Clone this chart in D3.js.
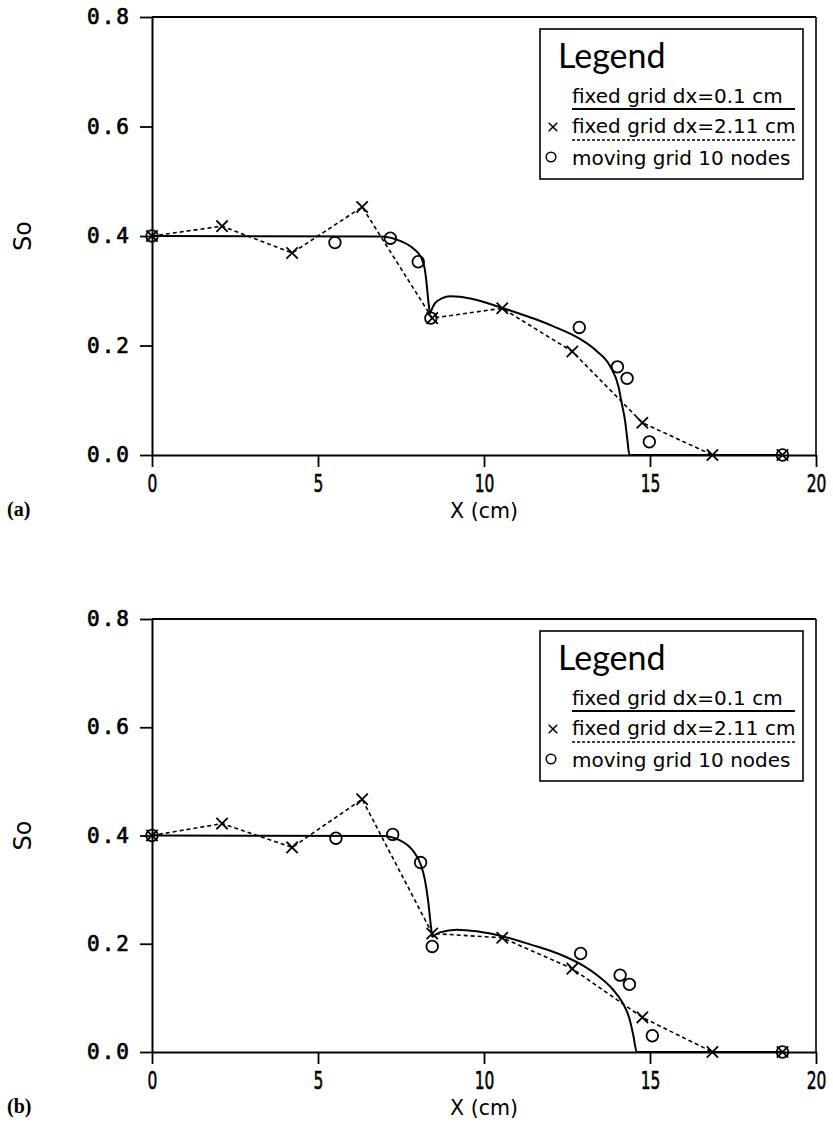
<!DOCTYPE html>
<html>
<head>
<meta charset="utf-8">
<script src="https://cdn.jsdelivr.net/npm/d3@7"></script>
<style>
    body { margin: 0; background: #fff; }
    svg { display: block; }
</style>
</head>
<body>
<svg id="chart" width="833" height="1124"></svg>
<script>
// ---- data ----
const xTicks = [0, 5, 10, 15, 20];
const yTicks = [0.0, 0.2, 0.4, 0.6, 0.8];
const legendTitle = "Legend";
const legendLabels = ["fixed grid dx=0.1 cm", "fixed grid dx=2.11 cm", "moving grid 10 nodes"];
const panelTags = ["(a)", "(b)"];
const xTitle = "X (cm)";
const yTitle = "So";

// coarse fixed grid, dx = 2.11 cm
const xCoarse = [0, 2.11, 4.22, 6.33, 8.44, 10.55, 12.66, 14.77, 16.88, 18.99];
const soCoarseA = [0.400, 0.418, 0.369, 0.453, 0.250, 0.268, 0.189, 0.059, 0.0, 0.0];
const soCoarseB = [0.400, 0.422, 0.378, 0.467, 0.219, 0.211, 0.154, 0.064, 0.0, 0.0];

// moving grid, 10 nodes
const xMovingA = [0, 5.51, 7.18, 8.02, 8.40, 12.87, 14.02, 14.31, 14.98, 18.99];
const soMovingA = [0.400, 0.388, 0.396, 0.353, 0.250, 0.233, 0.161, 0.140, 0.024, 0.0];
const xMovingB = [0, 5.54, 7.25, 8.09, 8.44, 12.91, 14.10, 14.38, 15.07, 18.99];
const soMovingB = [0.400, 0.395, 0.402, 0.350, 0.195, 0.182, 0.142, 0.125, 0.030, 0.0];

// fine fixed grid, dx = 0.1 cm (traced, split at the shock cusp)
const fineLeftA = [[0, 0.400], [6.87, 0.399], [7.47, 0.391], [7.87, 0.377], [8.12, 0.359],
    [8.22, 0.338], [8.27, 0.314], [8.32, 0.283], [8.37, 0.258]];
const fineRightA = [[8.37, 0.258], [8.52, 0.277], [8.73, 0.286], [8.98, 0.290], [9.28, 0.289],
    [9.78, 0.283], [10.28, 0.274], [10.58, 0.268], [11.08, 0.258], [11.6, 0.247], [12.09, 0.235],
    [12.89, 0.212], [13.39, 0.190], [13.80, 0.162], [14.05, 0.125], [14.15, 0.094], [14.25, 0.062],
    [14.32, 0.027], [14.38, 0.0], [19.0, 0.0]];
const fineLeftB = [[0, 0.400], [6.95, 0.399], [7.47, 0.391], [7.87, 0.371], [8.09, 0.347],
    [8.22, 0.318], [8.32, 0.278], [8.39, 0.238], [8.44, 0.212]];
const fineRightB = [[8.44, 0.212], [8.67, 0.221], [9.18, 0.226], [9.78, 0.223], [10.60, 0.213],
    [11.48, 0.197], [12.0, 0.187], [12.49, 0.175], [13.0, 0.159], [13.45, 0.140], [13.89, 0.115],
    [14.18, 0.090], [14.38, 0.062], [14.50, 0.030], [14.60, 0.0], [19.0, 0.0]];

const panels = [
    { top: 17, bottom: 455, tag: panelTags[0], fineL: fineLeftA, fineR: fineRightA,
      coarse: soCoarseA, movX: xMovingA, movY: soMovingA },
    { top: 619, bottom: 1052, tag: panelTags[1], fineL: fineLeftB, fineR: fineRightB,
      coarse: soCoarseB, movX: xMovingB, movY: soMovingB }
];

const sansFont = "'DejaVu Sans', sans-serif";
const svg = d3.select("#chart");
svg.append("rect").attr("width", 833).attr("height", 1124).attr("fill", "#fff");

panels.forEach(drawPanel);

function drawPanel(p) {
    const left = 152, right = 816;

    const x = d3.scaleLinear().domain([0, 20]).range([left, right]);
    const y = d3.scaleLinear().domain([0, 0.8]).range([p.bottom, p.top]);

    const g = svg.append("g");

    // frame: top and right edges
    g.append("line")
        .attr("x1", left).attr("x2", right)
        .attr("y1", p.top).attr("y2", p.top)
        .attr("stroke", "#000").attr("stroke-width", 2);
    g.append("line")
        .attr("x1", right).attr("x2", right)
        .attr("y1", p.top).attr("y2", p.bottom)
        .attr("stroke", "#000").attr("stroke-width", 1.6);

    // x axis
    const gx = g.append("g")
        .attr("transform", `translate(0,${p.bottom})`)
        .call(d3.axisBottom(x).tickValues(xTicks).tickSize(12).tickSizeOuter(0).tickPadding(7));
    gx.select(".domain").attr("stroke-width", 2);
    gx.selectAll(".tick line").attr("stroke-width", 1.8);
    gx.selectAll(".tick text")
        .attr("font-family", sansFont)
        .attr("font-size", 25)
        .attr("stroke", "#000").attr("stroke-width", 0.6)
        .attr("transform", "scale(0.62,1)");

    // y axis
    const gy = g.append("g")
        .attr("transform", `translate(${left},0)`)
        .call(d3.axisLeft(y).tickValues(yTicks).tickSize(12).tickSizeOuter(0).tickPadding(9)
            .tickFormat(d3.format(".1f")));
    gy.select(".domain").attr("stroke-width", 2);
    gy.selectAll(".tick line").attr("stroke-width", 1.8);
    gy.selectAll(".tick text")
        .attr("font-family", "'DejaVu Sans Mono', monospace")
        .attr("font-size", 21)
        .attr("stroke", "#000").attr("stroke-width", 0.7)
        .style("letter-spacing", "2px");

    // axis titles
    g.append("text")
        .attr("x", x(10)).attr("y", p.bottom + 63)
        .attr("text-anchor", "middle")
        .attr("font-family", sansFont).attr("font-size", 20.5)
        .text(xTitle);
    g.append("text")
        .attr("transform", `translate(31,${(p.top + p.bottom) / 2}) rotate(-90)`)
        .attr("text-anchor", "middle")
        .attr("font-family", sansFont).attr("font-size", 24)
        .text(yTitle);
    g.append("text")
        .attr("x", 7).attr("y", p.bottom + 61)
        .attr("font-family", "'Liberation Serif', serif").attr("font-weight", "bold")
        .attr("font-size", 20)
        .text(p.tag);

    // fine grid solution (solid)
    const fineLine = d3.line()
        .x(d => x(d[0])).y(d => y(d[1]))
        .curve(d3.curveMonotoneX);
    [p.fineL, p.fineR].forEach(seg => {
        g.append("path")
            .attr("d", fineLine(seg))
            .attr("fill", "none").attr("stroke", "#000").attr("stroke-width", 2);
    });

    // coarse grid (dashed)
    const coarse = xCoarse.map((v, i) => [v, p.coarse[i]]);
    g.append("path")
        .attr("d", d3.line().x(d => x(d[0])).y(d => y(d[1]))(coarse))
        .attr("fill", "none").attr("stroke", "#000")
        .attr("stroke-width", 1.6).attr("stroke-dasharray", "4,3");

    const xSym = d3.symbol().type(d3.symbolX).size(85);
    g.selectAll(".xmark")
        .data(coarse).enter()
        .append("path")
        .attr("class", "xmark")
        .attr("transform", d => `translate(${x(d[0])},${y(d[1])})`)
        .attr("d", xSym())
        .attr("fill", "none").attr("stroke", "#000").attr("stroke-width", 1.8);

    // moving grid nodes (circles)
    const moving = p.movX.map((v, i) => [v, p.movY[i]]);
    g.selectAll(".omark")
        .data(moving).enter()
        .append("circle")
        .attr("class", "omark")
        .attr("cx", d => x(d[0])).attr("cy", d => y(d[1]))
        .attr("r", 5.8)
        .attr("fill", "none").attr("stroke", "#000").attr("stroke-width", 1.8);

    // legend box
    const bx = right - 276, by = p.top + 12;
    const lg = g.append("g").attr("transform", `translate(${bx},${by})`);
    lg.append("rect")
        .attr("width", 263).attr("height", 150)
        .attr("fill", "#fff").attr("stroke", "#000").attr("stroke-width", 1.6);
    lg.append("text")
        .attr("x", 18).attr("y", 39)
        .attr("font-family", "Lato, sans-serif").attr("font-size", 34)
        .text(legendTitle);

    const rowBase = [74, 104, 136];
    legendLabels.forEach((label, i) => {
        lg.append("text")
            .attr("x", 32).attr("y", rowBase[i])
            .attr("font-family", sansFont).attr("font-size", 20)
            .text(label);
    });
    lg.append("line")
        .attr("x1", 32).attr("x2", 255).attr("y1", 80).attr("y2", 80)
        .attr("stroke", "#000").attr("stroke-width", 1.8);
    lg.append("line")
        .attr("x1", 32).attr("x2", 255).attr("y1", 111).attr("y2", 111)
        .attr("stroke", "#000").attr("stroke-width", 1.6).attr("stroke-dasharray", "3,2");
    lg.append("path")
        .attr("transform", "translate(13,98)")
        .attr("d", d3.symbol().type(d3.symbolX).size(50)())
        .attr("fill", "none").attr("stroke", "#000").attr("stroke-width", 1.5);
    lg.append("circle")
        .attr("cx", 11).attr("cy", 128).attr("r", 4.8)
        .attr("fill", "none").attr("stroke", "#000").attr("stroke-width", 1.5);
}
</script>
</body>
</html>
